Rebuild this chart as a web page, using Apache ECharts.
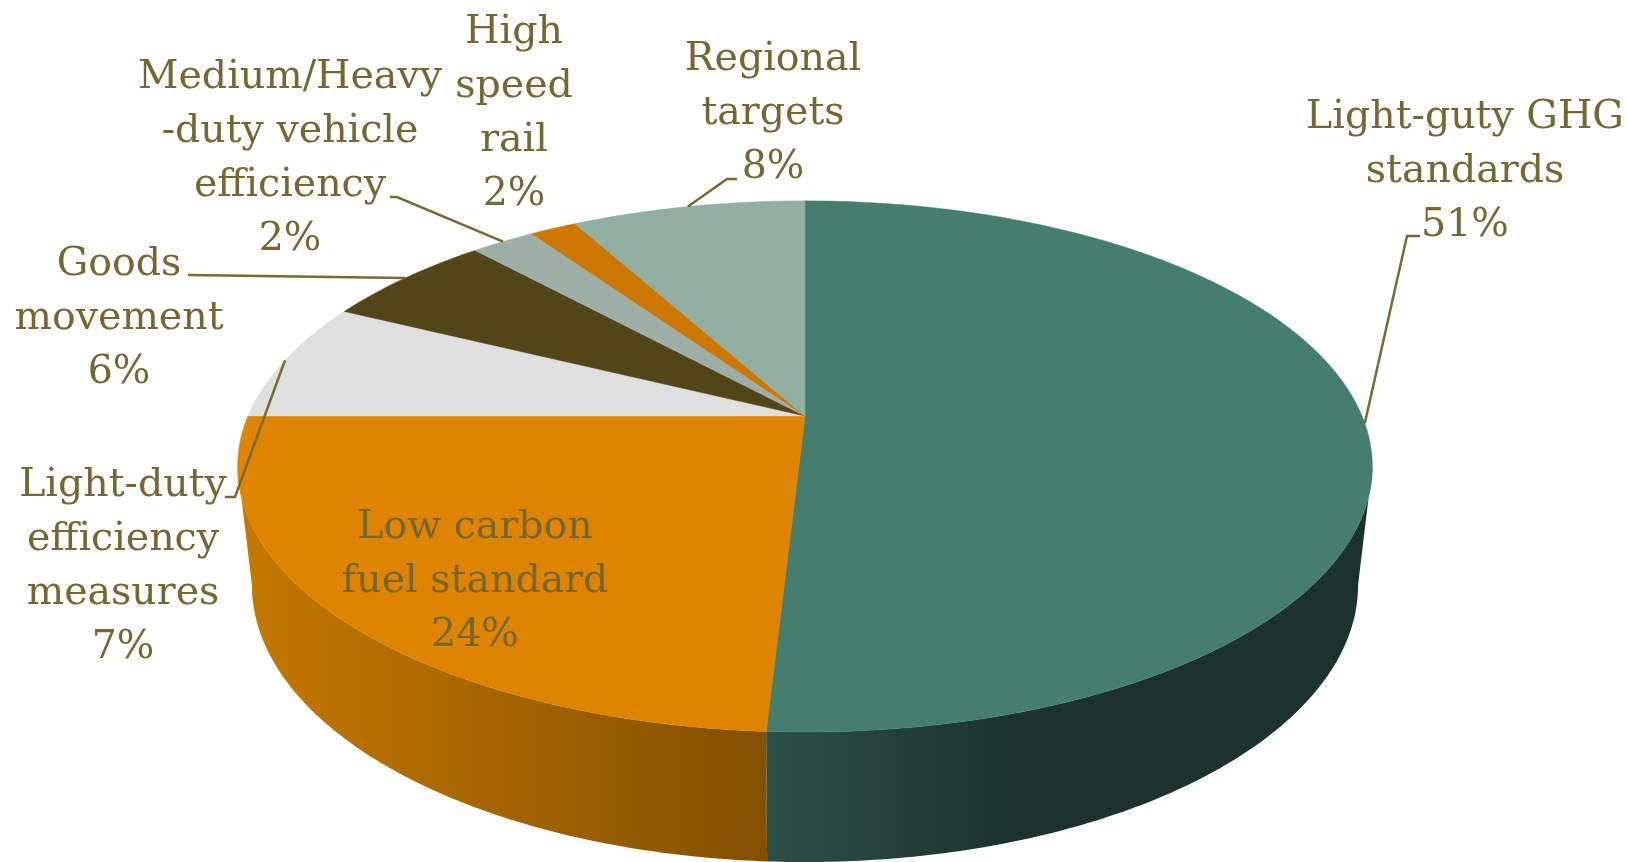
<!DOCTYPE html>
<html><head><meta charset="utf-8">
<style>html,body{margin:0;padding:0;background:#fff}#c{width:1627px;height:862px}</style>
<script src="https://cdn.jsdelivr.net/npm/echarts@6/dist/echarts.min.js"></script>
</head><body><div id="c"></div>
<script>
// Data (clockwise from the top)
const categories = ['Light-guty GHG\nstandards','Low carbon\nfuel standard','Light-duty\nefficiency\nmeasures','Goods\nmovement','Medium/Heavy\n-duty vehicle\nefficiency','High\nspeed\nrail','Regional\ntargets'];
const values = [50.9, 24.1, 7.3, 5.9, 2.2, 1.6, 8];

// Styles
const topColors = ['#457D6E','#DE8400','#DFDFDF','#524517','#9CAEA6','#CC7700','#91AFA3'];
const wallStops = [['#2B5046','#1C332D'],['#C47800','#825000'],['#aaa','#aaa'],['#332b0e','#332b0e'],['#6a7a72','#6a7a72'],['#8a5000','#8a5000'],['#5f7a70','#5f7a70']];
const wallSpan = [[768,1010],[248,768],[0,1],[0,1],[0,1],[0,1],[0,1]];
const TEXT = '#766631';
const FONT = '"DejaVu Serif",serif';
const FS = 39.5;
// label layout [centre x, centre y]
const labelPos = [[1465,172],[475,582],[123,567],[119,319],[290,159],[514,114],[773,114]];
// leader bends, walking away from the pie, null = none
const leaders = [[[1407,236],[1420,236]],null,[[235,497],[225,497]],[[188,275]],[[397,197],[390,197]],null,[[727,179],[737,179]]];

// Perspective projection of the pie disc
const P = {cx:805, cy:416, A:557, B:256, k:0.19};
const Q = {cx:805, cy:532.4, A:543, B:267, k:0.19};
const proj = (p,a) => { const u=Math.sin(a), v=-Math.cos(a), d=1-p.k*v; return [p.cx+p.A*u/d, p.cy+p.B*v/d]; };
const total = values.reduce((s,v)=>s+v,0);
const starts = []; values.reduce((s,v,i)=>(starts[i]=s, s+v),0);
const ang = s => s/total*2*Math.PI;
const arc = (p,a0,a1) => { const n=Math.max(4,Math.ceil((a1-a0)/0.01)), r=[]; for(let i=0;i<=n;i++) r.push(proj(p,a0+(a1-a0)*i/n)); return r; };
// the wall is only seen between the disc's two silhouette angles
const sideA = Math.acos(-P.k), sideB = 2*Math.PI - sideA;

const seriesData = values.map((v,i)=>[i,v]);
const option = {
  animation:false,
  series:[
    {type:'custom',coordinateSystem:'none',silent:true,z:1,data:seriesData,
     renderItem:(params,api)=>{
      const i=api.value(0), a0=Math.max(ang(starts[i]),sideA), a1=Math.min(ang(starts[i]+api.value(1)),sideB);
      if(a1<=a0) return {type:'group',children:[]};
      const pts=arc(P,a0,a1).concat(arc(Q,a0,a1).reverse());
      const fill={type:'linear',global:true,x:wallSpan[i][0],y:0,x2:wallSpan[i][1],y2:0,
        colorStops:[{offset:0,color:wallStops[i][0]},{offset:1,color:wallStops[i][1]}]};
      return {type:'polygon',shape:{points:pts},style:{fill}};
     }},
    {type:'custom',coordinateSystem:'none',silent:true,z:2,data:seriesData,
     renderItem:(params,api)=>{
      const i=api.value(0), a0=ang(starts[i]), a1=a0+ang(api.value(1));
      const pts=[[P.cx,P.cy]].concat(arc(P,a0,a1));
      return {type:'polygon',shape:{points:pts},style:{fill:topColors[i],stroke:topColors[i],lineWidth:0.5}};
     }},
    {type:'custom',coordinateSystem:'none',silent:true,z:3,data:seriesData,
     renderItem:(params,api)=>{
      const i=api.value(0), mid=ang(starts[i]+api.value(1)/2);
      const kids=[{type:'text',style:{text:categories[i]+'\n'+Math.round(api.value(1))+'%',x:labelPos[i][0],y:labelPos[i][1],
        align:'center',verticalAlign:'middle',fill:TEXT,font:FS+'px '+FONT,lineHeight:54}}];
      if(leaders[i]) kids.push({type:'polyline',shape:{points:[proj(P,mid)].concat(leaders[i])},style:{fill:'none',stroke:'#7A6A30',lineWidth:2.5}});
      return {type:'group',children:kids};
     }}
  ]
};
echarts.init(document.getElementById('c')).setOption(option);
</script></body></html>
